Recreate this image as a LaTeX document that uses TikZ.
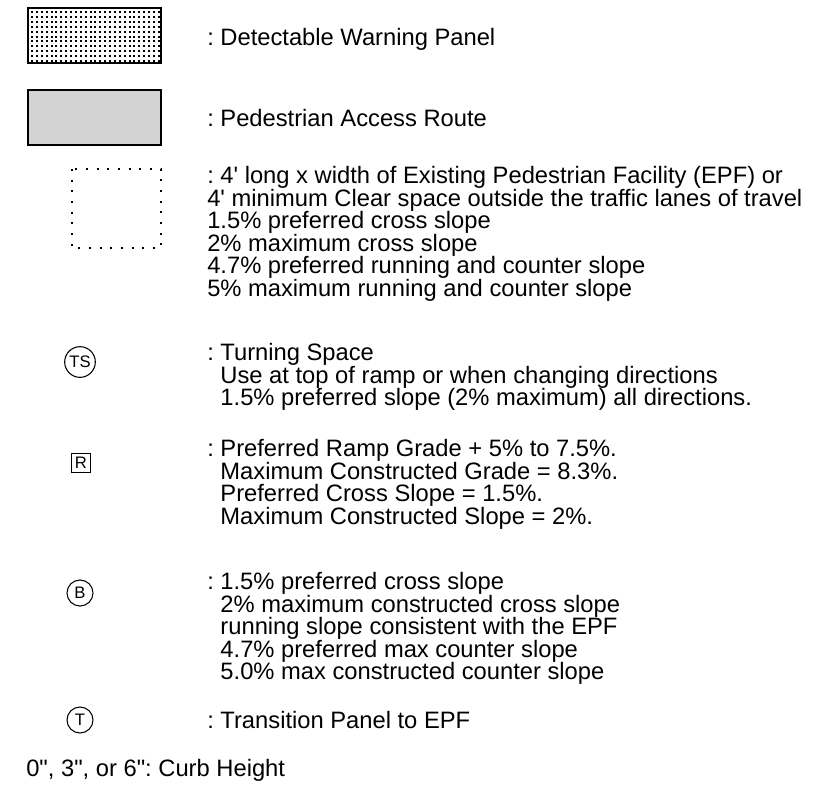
\documentclass[tikz,border=0pt]{standalone}
\usepackage{fontspec}
\setmainfont{Liberation Sans}
\usetikzlibrary{positioning}
\setlength{\lineskiplimit}{-\maxdimen}
\frenchspacing
\newcommand{\hang}{\hphantom{:\ }}
\newcommand{\ft}{\textquotesingle}
\newcommand{\inch}{\textquotedbl}

\begin{document}
\begin{tikzpicture}[
    x=0.75pt, y=-0.75pt,
    legline/.style={anchor=base west, inner sep=0pt, font=\fontsize{17.8}{16.9}\selectfont},
    legtext/.style={anchor=north west, inner sep=0pt, align=left, font=\fontsize{17.8}{16.9}\selectfont},
    symcirc/.style={circle, draw, line width=0.8pt, inner sep=0pt, minimum size=19.5pt, font=\fontsize{12.5}{12.5}\selectfont},
    symbox/.style={rectangle, draw, line width=0.8pt, inner sep=0pt, minimum size=14.25pt, font=\fontsize{12.5}{12.5}\selectfont},
    panel/.style={rectangle, draw, inner sep=0pt, minimum width=99.75pt, minimum height=41.25pt}
]
\useasboundingbox (0,0) rectangle (834,793);

% Legend symbols
\node[panel, line width=1.5pt] (dwp) at (94.5,35.5) {};
\foreach \i in {0,...,26}
  \foreach \j in {0,...,10}
    \fill (31+\i*4.88,11+\j*4.9) rectangle +(2,2);
\node[panel, fill={rgb,255:red,211;green,211;blue,211}, line width=0.8pt] (par) at (94.5,117.5) {};
\draw[line width=1.5pt, dash pattern=on 1.5pt off 6.5pt] (72,169) rectangle (161,248);
\node[symcirc, minimum size=23pt] (ts) at (80,362) {TS};
\node[symbox] (r) at (81,463) {R};
\node[symcirc] (b) at (80,593) {B};
\node[symcirc] (t) at (80,720) {T};

% Legend texts
\node[legline] (dwptext) at (207,45) {: Detectable Warning Panel};
\node[legline] (partext) at (207,126) {: Pedestrian Access Route};
\node[legtext] (epftext) at (207,166) {: 4\ft{} long x width of Existing Pedestrian Facility (EPF) or\\
  4\ft{} minimum Clear space outside the traffic lanes of travel\\
  1.5\% preferred cross slope\\
  2\% maximum cross slope\\
  4.7\% preferred running and counter slope\\
  5\% maximum running and counter slope};
\node[legtext] (tstext) at (207,343) {: Turning Space\\
  \hang Use at top of ramp or when changing directions\\
  \hang 1.5\% preferred slope (2\% maximum) all directions.};
\node[legtext] (rtext) at (207,439) {: Preferred Ramp Grade + 5\% to 7.5\%.\\
  \hang Maximum Constructed Grade = 8.3\%.\\
  \hang Preferred Cross Slope = 1.5\%.\\
  \hang Maximum Constructed Slope = 2\%.};
\node[legtext] (btext) at (207,572) {: 1.5\% preferred cross slope\\
  \hang 2\% maximum constructed cross slope\\
  \hang running slope consistent with the EPF\\
  \hang 4.7\% preferred max counter slope\\
  \hang 5.0\% max constructed counter slope};
\node[legline] (ttext) at (207,728) {: Transition Panel to EPF};
\node[legline] (curb) at (26,776) {0\inch, 3\inch, or 6\inch: Curb Height};

\end{tikzpicture}
\end{document}
